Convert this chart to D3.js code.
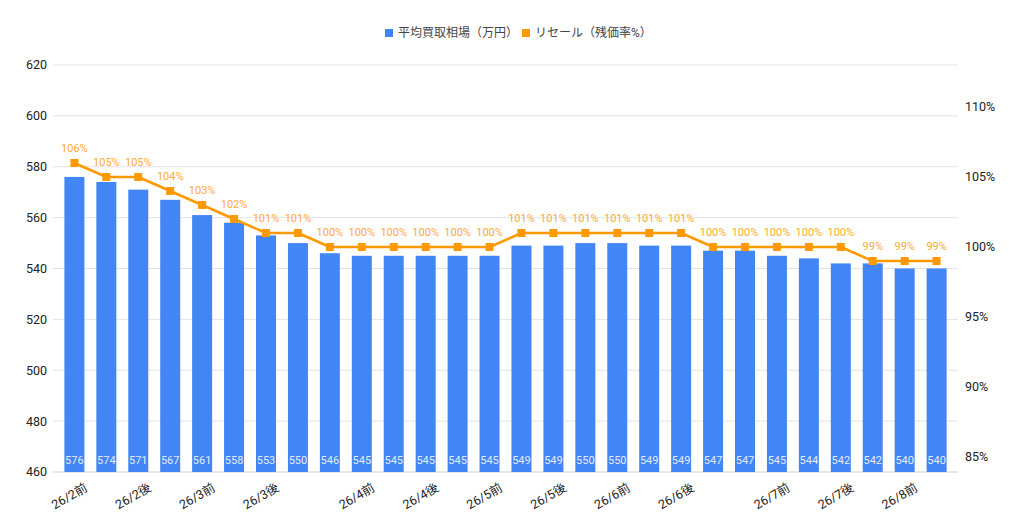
<!DOCTYPE html>
<html>
<head>
<meta charset="utf-8">
<script src="https://cdn.jsdelivr.net/npm/d3@7"></script>
<style>
  body { margin: 0; background: #fff; }
  text { font-family: Roboto, "Noto Sans CJK JP", sans-serif; }
</style>
</head>
<body>
<script>
// data
var categories = ["26/2前", "26/2前", "26/2後", "26/2後", "26/3前", "26/3前", "26/3後", "26/3後",
                  "26/3後", "26/4前", "26/4前", "26/4後", "26/4後", "26/5前", "26/5前", "26/5後",
                  "26/5後", "26/6前", "26/6前", "26/6後", "26/6後", "26/6後", "26/7前", "26/7前",
                  "26/7後", "26/7後", "26/8前", "26/8前"];
var priceValues = [576, 574, 571, 567, 561, 558, 553, 550, 546, 545, 545, 545, 545, 545,
                   549, 549, 550, 550, 549, 549, 547, 547, 545, 544, 542, 542, 540, 540];
var resaleValues = [106, 105, 105, 104, 103, 102, 101, 101, 100, 100, 100, 100, 100, 100,
                    101, 101, 101, 101, 101, 101, 100, 100, 100, 100, 100, 99, 99, 99];
var leftTicks = [460, 480, 500, 520, 540, 560, 580, 600, 620];
var rightTicks = [85, 90, 95, 100, 105, 110];
var seriesNames = ["平均買取相場（万円）", "リセール（残価率%）"];

var width = 1024, height = 529;
var blue = "#4285f4", orange = "#ff9900";

var svg = d3.select("body").append("svg")
    .attr("width", width)
    .attr("height", height);

var x = d3.scaleBand()
    .domain(d3.range(categories.length))
    .range([53, 958])
    .paddingInner(0.374)
    .paddingOuter(0.357);

var y = d3.scaleLinear()
    .domain([460, 620])
    .range([472, 65]);

var yR = d3.scaleLinear()
    .domain([83.93, 113])
    .range([472, 65]);

function cx(i) { return x(i) + x.bandwidth() / 2; }

// grid
svg.append("g").selectAll("line")
    .data(leftTicks)
    .enter()
      .append("line")
      .attr("x1", 53)
      .attr("x2", 958)
      .attr("y1", function(d) { return y(d); })
      .attr("y2", function(d) { return y(d); })
      .attr("stroke", function(d) { return d == 460 ? "#cfcfcf" : "#e3e3e3"; })
      .attr("stroke-width", 1);

// left axis labels
svg.append("g").selectAll("text")
    .data(leftTicks)
    .enter()
      .append("text")
      .attr("x", 47)
      .attr("y", function(d) { return y(d); })
      .attr("dy", "0.35em")
      .attr("text-anchor", "end")
      .attr("font-size", 12.5)
      .attr("fill", "#222")
      .text(function(d) { return d; });

// right axis labels
svg.append("g").selectAll("text")
    .data(rightTicks)
    .enter()
      .append("text")
      .attr("x", 965)
      .attr("y", function(d) { return yR(d); })
      .attr("dy", "0.35em")
      .attr("font-size", 12.5)
      .attr("fill", "#222")
      .text(function(d) { return d + "%"; });

// bars
svg.append("g").selectAll("rect")
    .data(priceValues)
    .enter()
      .append("rect")
      .attr("x", function(d, i) { return x(i); })
      .attr("width", x.bandwidth())
      .attr("y", function(d) { return y(d); })
      .attr("height", function(d) { return y(460) - y(d); })
      .attr("fill", blue);

svg.append("g").selectAll("text")
    .data(priceValues)
    .enter()
      .append("text")
      .attr("x", function(d, i) { return cx(i); })
      .attr("y", y(460) - 12)
      .attr("dy", "0.35em")
      .attr("text-anchor", "middle")
      .attr("font-size", 11)
      .attr("fill", "#e3ecfd")
      .text(function(d) { return d; });

// x axis labels
var xAxis = d3.axisBottom(x)
    .tickValues(d3.range(categories.length).filter(function(i) {
      return i == 0 || categories[i] != categories[i - 1];
    }))
    .tickSize(0)
    .tickFormat(function(i) { return categories[i]; });

var gx = svg.append("g")
    .attr("transform", "translate(0,480)")
    .call(xAxis);
gx.select(".domain").remove();
gx.selectAll("text")
    .attr("font-size", 12.5)
    .attr("fill", "#222")
    .attr("text-anchor", "end")
    .attr("dy", "0.7em")
    .attr("transform", "translate(8,0) rotate(-30)");

// faint leader lines from labels to points
svg.append("g").selectAll("line")
    .data(resaleValues)
    .enter()
      .append("line")
      .attr("x1", function(d, i) { return cx(i); })
      .attr("x2", function(d, i) { return cx(i); })
      .attr("y1", function(d) { return yR(d) - 9; })
      .attr("y2", function(d) { return yR(d); })
      .attr("stroke", "#f1f1f1")
      .attr("stroke-width", 1);

// line
var line = d3.line()
    .x(function(d, i) { return cx(i); })
    .y(function(d) { return yR(d); });

svg.append("path")
    .datum(resaleValues)
    .attr("d", line)
    .attr("fill", "none")
    .attr("stroke", orange)
    .attr("stroke-width", 2.5)
    .attr("stroke-linejoin", "round");

svg.append("g").selectAll("rect")
    .data(resaleValues)
    .enter()
      .append("rect")
      .attr("x", function(d, i) { return cx(i) - 4; })
      .attr("y", function(d) { return yR(d) - 4; })
      .attr("width", 8)
      .attr("height", 8)
      .attr("fill", orange);

svg.append("g").selectAll("text")
    .data(resaleValues)
    .enter()
      .append("text")
      .attr("x", function(d, i) { return cx(i); })
      .attr("y", function(d) { return yR(d) - 15; })
      .attr("dy", "0.35em")
      .attr("text-anchor", "middle")
      .attr("font-size", 11)
      .attr("fill", "#ffab34")
      .text(function(d) { return d + "%"; });

// legend
var legend = svg.append("g");
var legendX = [385, 522];
var legendColors = [blue, orange];
legend.selectAll("rect")
    .data(seriesNames)
    .enter()
      .append("rect")
      .attr("x", function(d, i) { return legendX[i]; })
      .attr("y", 29)
      .attr("width", 8)
      .attr("height", 8)
      .attr("fill", function(d, i) { return legendColors[i]; });
legend.selectAll("text")
    .data(seriesNames)
    .enter()
      .append("text")
      .attr("x", function(d, i) { return legendX[i] + 13; })
      .attr("y", 33)
      .attr("dy", "0.35em")
      .attr("font-size", 12)
      .attr("fill", "#444")
      .text(function(d) { return d; });
</script>
</body>
</html>
